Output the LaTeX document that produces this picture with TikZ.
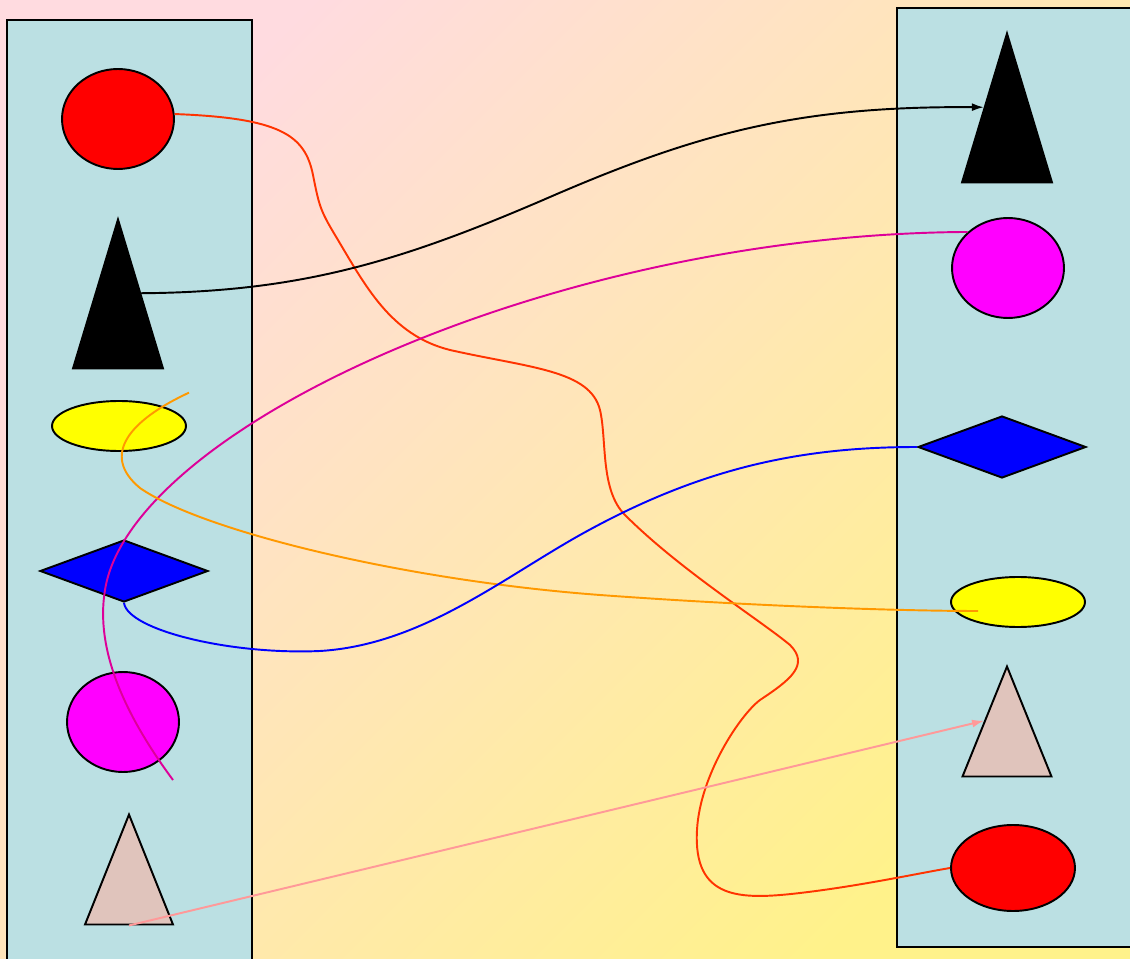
\documentclass[tikz,border=0pt]{standalone}
\usetikzlibrary{shapes.geometric, arrows.meta, calc}

\definecolor{bgpink}{HTML}{FFDBE0}
\definecolor{bgyellow}{HTML}{FFF28A}
\definecolor{panelblue}{HTML}{BBE0E3}
\definecolor{redfill}{HTML}{FF0000}
\definecolor{yellowfill}{HTML}{FFFF00}
\definecolor{bluefill}{HTML}{0000FF}
\definecolor{magfill}{HTML}{FF00FF}
\definecolor{pinkfill}{HTML}{E0C4BC}
\definecolor{redline}{HTML}{FF3300}
\definecolor{orangeline}{HTML}{FF9900}
\definecolor{magline}{HTML}{DD0099}
\definecolor{blueline}{HTML}{0000FF}
\definecolor{pinkline}{HTML}{FF9999}

\begin{document}
\begin{tikzpicture}[
    x=0.02cm, y=-0.02cm,
    panel/.style={draw, line width=1.1pt, fill=panelblue},
    oval/.style={ellipse, draw, line width=1.1pt, inner sep=0pt},
    tri/.style={isosceles triangle, isosceles triangle stretches, shape border rotate=90, draw, line width=1.1pt, inner sep=0pt, anchor=apex},
    kite/.style={diamond, draw, line width=1.1pt, inner sep=0pt, fill=bluefill, minimum width=3.36cm, minimum height=1.24cm},
    link/.style={line width=1.1pt},
    arrow/.style={->, >={Latex[length=2.4mm, width=1.6mm]}, line width=1.1pt}
]
    % Background
    \shade[top color=bgpink, bottom color=bgyellow, shading angle=45] (0,0) rectangle (1130,959);
    \useasboundingbox (0,0) rectangle (1130,959);

    % Panels
    \draw[panel] (7,20) rectangle (252,975);
    \draw[panel] (897,8) rectangle (1145,947);

    % Left column
    \node[oval, fill=redfill, minimum width=2.24cm, minimum height=2cm] (lc1) at (118,119) {};
    \node[tri, fill=black, minimum width=1.8cm, minimum height=2.98cm] (lt2) at (118,217) {};
    \node[oval, fill=yellowfill, minimum width=2.68cm, minimum height=1cm] (le3) at (119,426) {};
    \node[kite] (ld4) at (124,571) {};
    \node[oval, fill=magfill, minimum width=2.24cm, minimum height=2cm] (lc5) at (123,722) {};
    \node[tri, fill=pinkfill, minimum width=1.76cm, minimum height=2.2cm] (lt6) at (129,812) {};

    % Right column
    \node[tri, fill=black, minimum width=1.8cm, minimum height=2.98cm] (rt1) at (1007,31) {};
    \node[oval, fill=magfill, minimum width=2.24cm, minimum height=2cm] (rc2) at (1008,268) {};
    \node[kite] (rd3) at (1002,447) {};
    \node[oval, fill=yellowfill, minimum width=2.68cm, minimum height=1cm] (re4) at (1018,602) {};
    \node[tri, fill=pinkfill, minimum width=1.78cm, minimum height=2.2cm] (rt5) at (1007,664) {};
    \node[oval, fill=redfill, minimum width=2.48cm, minimum height=1.72cm] (rc6) at (1013,868) {};

    % Links
    \draw[link, draw=redline] (lc1.5) .. controls (280,118) and (305,135) .. (313,175)
        .. controls (319,205) and (320,210) .. (335,235)
        .. controls (365,285) and (390,335) .. (450,350)
        .. controls (530,368) and (590,370) .. (600,410)
        .. controls (607,440) and (600,490) .. (625,515)
        .. controls (680,570) and (760,620) .. (790,645)
        .. controls (810,665) and (790,680) .. (760,700)
        .. controls (740,715) and (700,775) .. (697,830)
        .. controls (693,900) and (740,900) .. (800,893)
        .. controls (860,886) and (920,873) .. (rc6.west);

    \draw[arrow, black] (lt2.right side) .. controls (300,292) and (400,262) .. (550,197)
        .. controls (700,132) and (800,106) .. (rt1.left side);

    \draw[link, draw=magline] ([shift={(50,58)}]lc5.center) .. controls (125,715) and (95,650) .. (105,590)
        .. controls (130,430) and (550,234) .. (rc2.north west);

    \draw[link, draw=orangeline] ([shift={(22,-15)}]le3.north east) .. controls (130,420) and (100,455) .. (140,488)
        .. controls (200,530) and (400,580) .. (600,595)
        .. controls (750,606) and (900,611) .. ([shift={(-40,9)}]re4.center);

    \draw[link, draw=blueline] (ld4.south) .. controls (128,630) and (230,655) .. (320,651)
        .. controls (420,645) and (500,580) .. (580,535)
        .. controls (700,468) and (800,447) .. (rd3.west);

    \draw[arrow, pinkline] (lt6.lower side) -- (rt5.left side);

\end{tikzpicture}
\end{document}
